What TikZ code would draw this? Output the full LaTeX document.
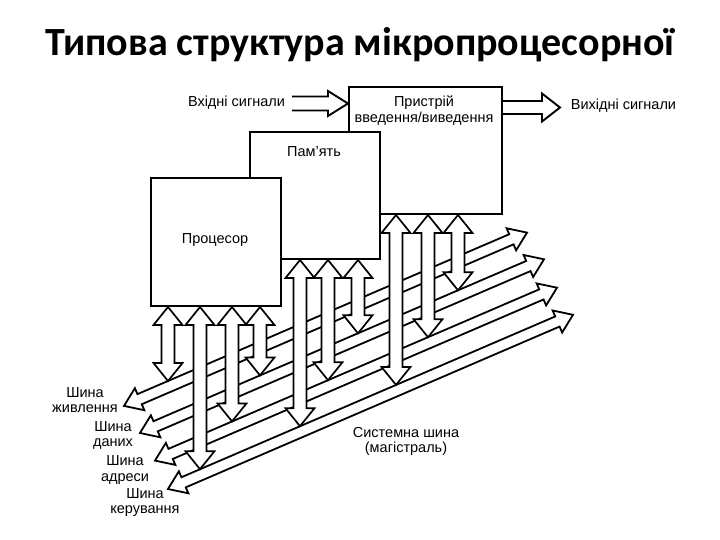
\documentclass[tikz,border=0pt]{standalone}
\usepackage{fontspec}
\setmainfont{Liberation Sans}
\newfontfamily\titlefont{Carlito}
\usetikzlibrary{calc}
\newcommand\hollowtwo[6]{% #1 style, #2 A, #3 B, #4 shaft half width, #5 head half width, #6 head length
  \draw[#1] (#2)
    -- ($(#2)!#6!(#3)!#5!90:(#3)$)
    -- ($(#2)!#6!(#3)!#4!90:(#3)$)
    -- ($(#3)!#6!(#2)!#4!-90:(#2)$)
    -- ($(#3)!#6!(#2)!#5!-90:(#2)$)
    -- (#3)
    -- ($(#3)!#6!(#2)!#5!90:(#2)$)
    -- ($(#3)!#6!(#2)!#4!90:(#2)$)
    -- ($(#2)!#6!(#3)!#4!-90:(#3)$)
    -- ($(#2)!#6!(#3)!#5!-90:(#3)$)
    -- cycle;}
\begin{document}
\begin{tikzpicture}[x=1pt,y=-1pt,
  box/.style={draw, line width=2pt, fill=white, inner sep=0pt, anchor=north west},
  bus/.style={draw, line width=1.8pt, fill=white, line join=miter},
  vert/.style={draw, line width=1.7pt, fill=white, line join=miter},
  sig/.style={draw, line width=1.9pt, line join=miter},
  lbl/.style={font=\fontsize{14.5}{15.5}\selectfont, align=center, inner sep=0pt},
  ttl/.style={font=\titlefont\bfseries\fontsize{40}{44}\selectfont, inner sep=0pt, anchor=base}]
\useasboundingbox (0,0) rectangle (720,540);

% title
\node[ttl] (title) at (360,56) {Типова структура мікропроцесорної};

% bus end points
\coordinate (b1l) at (124,405.9); \coordinate (b1r) at (527,232.6);
\coordinate (b2l) at (140,433.0); \coordinate (b2r) at (544,259.3);
\coordinate (b3l) at (155,460.6); \coordinate (b3r) at (557,287.7);
\coordinate (b4l) at (168,489.0); \coordinate (b4r) at (573,314.8);

% buses
\hollowtwo{bus}{b1l}{b1r}{5.5pt}{12pt}{17pt}
\hollowtwo{bus}{b2l}{b2r}{5.5pt}{12pt}{17pt}
\hollowtwo{bus}{b3l}{b3r}{5.5pt}{12pt}{17pt}
\hollowtwo{bus}{b4l}{b4r}{5.5pt}{12pt}{17pt}

% boxes
\node[box, minimum width=153pt, minimum height=127pt] (io) at (348,86) {};
\node[box, minimum width=130pt, minimum height=127pt] (mem) at (249,131) {};
\node[box, minimum width=130pt, minimum height=128pt] (proc) at (150,177) {};

% arrow ends on the buses
\coordinate (p1) at (168,381.0); \coordinate (p2) at (200,469.2);
\coordinate (p3) at (232,421.4); \coordinate (p4) at (260,375.4);
\coordinate (m1) at (300,426.2); \coordinate (m2) at (328,380.2);
\coordinate (m3) at (358,333.3);
\coordinate (i1) at (396,384.9); \coordinate (i2) at (428,337.2);
\coordinate (i3) at (458,290.3);

% vertical double arrows
\foreach \e in {p1,p2,p3,p4}{\coordinate (s\e) at (proc.south -| \e); \hollowtwo{vert}{s\e}{\e}{6.5pt}{14.5pt}{18pt}}
\foreach \e in {m1,m2,m3}{\coordinate (s\e) at (mem.south -| \e); \hollowtwo{vert}{s\e}{\e}{6.5pt}{14.5pt}{18pt}}
\foreach \e in {i1,i2,i3}{\coordinate (s\e) at (io.south -| \e); \hollowtwo{vert}{s\e}{\e}{6.5pt}{14.5pt}{18pt}}

% box texts
\node[lbl] (iot) at (424,110.5) {Пристрій\\введення/виведення};
\node[lbl] (memt) at (314,152) {Пам’ять};
\node[lbl] (proct) at (215,240) {Процесор};

% input / output arrows
\coordinate (inL) at (292,103.5);
\coordinate (inT) at (io.west |- inL);
\draw[sig] ($(inL)+(0,-7)$) -- ($(inT)+(-20,-7)$) -- ($(inT)+(-20,-12.5)$) -- (inT)
  -- ($(inT)+(-20,12.5)$) -- ($(inT)+(-20,7)$) -- ($(inL)+(0,7)$);
\coordinate (outT) at (560,107.5);
\coordinate (outS) at (io.east |- outT);
\draw[sig] ($(outS)+(0,-6.5)$) -- ($(outT)+(-18,-6.5)$) -- ($(outT)+(-18,-14)$) -- (outT)
  -- ($(outT)+(-18,14)$) -- ($(outT)+(-18,6.5)$) -- ($(outS)+(0,6.5)$);

\node[lbl] (intxt) at (236.5,103) {Вхідні сигнали};
\node[lbl] (outtxt) at (623.5,106) {Вихідні сигнали};

% bus labels
\node[lbl] (l1) at (85,400) {Шина\\живлення};
\node[lbl] (l2) at (113,435.5) {Шина\\даних};
\node[lbl] (l3) at (125,470) {Шина\\адреси};
\node[lbl] (l4) at (145,502.5) {Шина\\керування};
\node[lbl] (sys) at (406,441.5) {Системна шина\\(магістраль)};
\end{tikzpicture}
\end{document}
